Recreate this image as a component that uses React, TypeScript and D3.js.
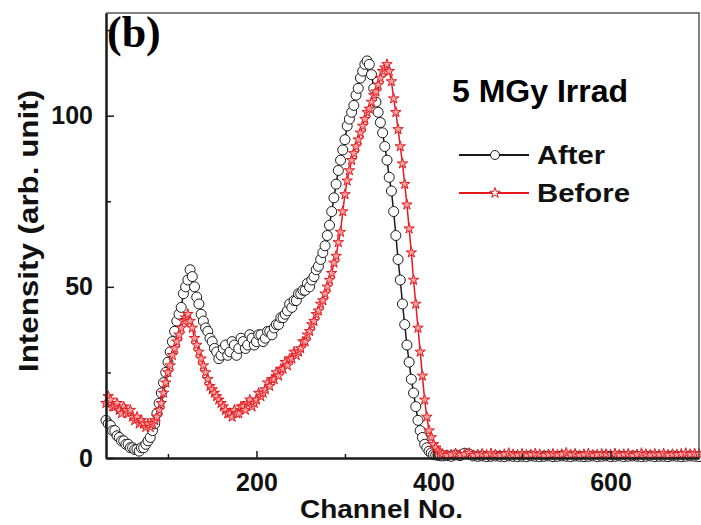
import React, { useRef, useEffect } from 'react';
import * as d3 from 'd3';

// sampling grid: every 2.5 channels through the peaks, every 5 channels on the flat tail
const channels = d3.range(30, 410.1, 2.5).concat(d3.range(415, 701, 5));

const afterValues = [
  11, 10, 9.5, 8, 8, 6.5, 6, 5,
  5, 4, 4, 3, 3, 2.5, 2.5, 2, 3, 3, 4, 5, 6, 8, 10, 13, 16, 19, 22, 25,
  28, 31, 34, 37, 40, 42, 44, 48, 50, 52, 55, 53, 50, 47, 45, 42, 40, 38, 37, 35,
  34, 32, 31, 29, 30, 32, 33, 30, 31, 34, 33, 30, 32, 35, 34, 32, 33, 36, 35, 33,
  34, 36, 36, 34, 35, 37, 37, 36, 38, 39, 39, 41, 41, 42, 43, 45, 44, 46, 46, 48,
  48, 49, 49, 51, 50, 52, 53, 55, 56, 58, 60, 62, 65, 68, 72, 76, 80, 84, 87, 90,
  93, 97, 99, 101, 103, 106, 108, 111, 113, 115, 116, 115, 112, 108, 104, 101, 98, 95, 91, 87,
  82, 78, 72, 65, 58, 52, 45, 39, 33, 28, 23, 19, 15, 11, 8, 6, 4, 3, 2, 1.5,
  1, 0.9, 0.8, 0.7, 0.6,
  0.7, 0.5, 0.9, 0.7, 1.4, 1.2, 0.6, 0.5, 0.6, 0.4,
  0.5, 0.6, 0.5, 0.4, 0.6, 0.5, 0.4, 0.5, 0.4, 0.6,
  0.5, 0.4, 0.5, 0.6, 0.4, 0.5, 0.6, 0.5, 0.4, 0.6,
  0.5, 0.4, 0.5, 0.6, 0.4, 0.5, 0.6, 0.4, 0.5, 0.6,
  0.4, 0.5, 0.6, 0.5, 0.4, 0.5, 0.6, 0.4, 0.5, 0.5,
  0.4, 0.6, 0.5, 0.4, 0.5, 0.6, 0.5, 0.4
];

const beforeValues = [
  16, 18, 17, 15, 15, 16, 14, 13,
  15, 14, 13, 14, 12, 11, 12, 10, 11, 10, 9, 10, 9, 10, 11, 12, 14, 16, 19, 22,
  25, 27, 30, 32, 34, 36, 38, 40, 41, 42, 40, 38, 35, 33, 31, 29, 27, 25, 23, 21,
  20, 19, 18, 17, 16, 15, 14, 13, 13, 12, 14, 13, 13, 15, 15, 14, 16, 17, 15, 16,
  17, 19, 18, 19, 20, 22, 21, 23, 23, 25, 24, 26, 26, 28, 27, 29, 29, 31, 30, 31,
  32, 34, 34, 36, 37, 39, 40, 42, 43, 45, 46, 48, 50, 52, 54, 57, 59, 63, 66, 72,
  77, 81, 84, 87, 89, 91, 93, 95, 97, 99, 101, 102, 104, 106, 107, 109, 111, 113, 114, 115,
  113, 110, 105, 101, 96, 91, 86, 80, 74, 67, 60, 52, 45, 38, 31, 24, 17, 12, 8, 6,
  4, 3, 2, 1.5, 1.2,
  0.8, 1.0, 1.3, 0.9, 1.1, 1.4, 0.8, 1.0, 1.2, 0.9,
  1.3, 1.0, 0.8, 1.1, 1.4, 1.0, 0.9, 1.2, 0.9, 1.0,
  1.3, 1.1, 0.8, 1.0, 1.2, 0.9, 1.1, 1.5, 1.0, 1.2,
  0.8, 1.1, 1.3, 0.9, 1.0, 1.2, 1.1, 1.0, 1.3, 0.9,
  1.1, 1.2, 0.8, 1.0, 1.4, 1.1, 0.9, 1.2, 1.0, 1.3,
  0.9, 1.1, 1.0, 1.2, 1.4, 1.1, 1.3, 1.2
];

const xMajorTicks = [200, 400, 600];
const xMinorTicks = [100, 300, 500];
const yMajorTicks = [0, 50, 100];
const yMinorTicks = [25, 75, 125];

const legendItems = ['After', 'Before'];

const RED = '#e5191e';
const BLACK = '#1a1a1a';
const SANS = '"Liberation Sans", Arial, sans-serif';

const SpectrumChart = () => {
  const chartRef = useRef<SVGSVGElement>(null);

  useEffect(() => {
    const width = 701;
    const height = 525;
    const left = 106;
    const right = 699;
    const top = 13;
    const bottom = 458;

    const svg = d3.select(chartRef.current)
      .attr('width', width)
      .attr('height', height)
      .attr('viewBox', [0, 0, width, height] as any);
    svg.selectAll('*').remove();

    svg.append('rect').attr('width', width).attr('height', height).attr('fill', '#fff');

    const x = d3.scaleLinear().domain([30, 700]).range([left, right]);
    const y = d3.scaleLinear().domain([0, 130]).range([bottom, top]);

    const after = channels.map((c, i) => ({ c, v: afterValues[i] }));
    const before = channels.map((c, i) => ({ c, v: beforeValues[i] }));

    const line = d3.line<{ c: number; v: number }>()
      .x(d => x(d.c))
      .y(d => y(d.v));

    const plot = svg.append('g');

    // After: black line with open circles
    plot.append('path')
      .datum(after)
      .attr('fill', 'none')
      .attr('stroke', BLACK)
      .attr('stroke-width', 1.5)
      .attr('d', line);

    plot.append('g')
      .selectAll('circle')
      .data(after)
      .join('circle')
      .attr('cx', d => x(d.c))
      .attr('cy', d => y(d.v))
      .attr('r', 5)
      .attr('fill', '#fff')
      .attr('stroke', BLACK)
      .attr('stroke-width', 1);

    // Before: red line with stars
    plot.append('path')
      .datum(before)
      .attr('fill', 'none')
      .attr('stroke', RED)
      .attr('stroke-width', 1.5)
      .attr('d', line);

    const star = d3.symbol().type(d3.symbolStar).size(34);

    plot.append('g')
      .selectAll('path')
      .data(before)
      .join('path')
      .attr('transform', d => `translate(${x(d.c)},${y(d.v)})`)
      .attr('d', star as any)
      .attr('fill', '#f7a0a0')
      .attr('stroke', RED)
      .attr('stroke-width', 1);

    // frame top / right
    svg.append('path')
      .attr('d', `M${left},${top}H${right}V${bottom}`)
      .attr('fill', 'none')
      .attr('stroke', '#555')
      .attr('stroke-width', 1.5);

    // axes
    const xAxis = svg.append('g')
      .attr('transform', `translate(0,${bottom})`)
      .call(d3.axisBottom(x).tickValues(xMajorTicks).tickSize(-7).tickSizeOuter(0).tickPadding(15).tickFormat(d3.format('d')));
    svg.append('g')
      .attr('transform', `translate(0,${bottom})`)
      .call(d3.axisBottom(x).tickValues(xMinorTicks).tickSize(-4).tickSizeOuter(0).tickFormat(() => ''));

    const yAxis = svg.append('g')
      .attr('transform', `translate(${left},0)`)
      .call(d3.axisLeft(y).tickValues(yMajorTicks).tickSize(-8).tickSizeOuter(0).tickPadding(13).tickFormat(d3.format('d')));
    svg.append('g')
      .attr('transform', `translate(${left},0)`)
      .call(d3.axisLeft(y).tickValues(yMinorTicks).tickSize(-5).tickSizeOuter(0).tickFormat(() => ''));

    svg.selectAll('.domain').attr('stroke', BLACK).attr('stroke-width', 2);
    svg.selectAll('.tick line').attr('stroke', BLACK).attr('stroke-width', 1.5);
    [xAxis, yAxis].forEach(a => a.selectAll('text')
      .attr('fill', '#111')
      .style('font-family', SANS)
      .style('font-weight', 'bold')
      .style('font-size', '25px'));

    // axis titles
    svg.append('text')
      .attr('x', 300)
      .attr('y', 518)
      .attr('textLength', 163)
      .attr('lengthAdjust', 'spacingAndGlyphs')
      .attr('fill', '#111')
      .style('font-family', SANS)
      .style('font-weight', 'bold')
      .style('font-size', '26px')
      .text('Channel No.');

    svg.append('text')
      .attr('transform', 'translate(38,372) rotate(-90)')
      .attr('textLength', 282)
      .attr('lengthAdjust', 'spacingAndGlyphs')
      .attr('fill', '#111')
      .style('font-family', SANS)
      .style('font-weight', 'bold')
      .style('font-size', '28px')
      .text('Intensity (arb. unit)');

    // panel label
    svg.append('text')
      .attr('x', 107)
      .attr('y', 47)
      .attr('fill', '#000')
      .style('font-family', '"Liberation Serif", "Times New Roman", serif')
      .style('font-weight', 'bold')
      .style('font-size', '44px')
      .text('(b)');

    svg.append('text')
      .attr('x', 452)
      .attr('y', 102)
      .attr('textLength', 176)
      .attr('lengthAdjust', 'spacingAndGlyphs')
      .attr('fill', '#000')
      .style('font-family', SANS)
      .style('font-weight', 'bold')
      .style('font-size', '31px')
      .text('5 MGy Irrad');

    // legend
    const legend = svg.append('g');
    const legendY = [155, 193];
    const legendWidths = [68, 93];
    legendItems.forEach((name, i) => {
      const color = i === 0 ? BLACK : RED;
      legend.append('line')
        .attr('x1', 459).attr('x2', 529)
        .attr('y1', legendY[i]).attr('y2', legendY[i])
        .attr('stroke', color)
        .attr('stroke-width', 2);
      if (i === 0) {
        legend.append('circle')
          .attr('cx', 495).attr('cy', legendY[i]).attr('r', 4.5)
          .attr('fill', '#fff').attr('stroke', BLACK).attr('stroke-width', 1);
      } else {
        legend.append('path')
          .attr('transform', `translate(495,${legendY[i]})`)
          .attr('d', star as any)
          .attr('fill', '#fff').attr('stroke', RED).attr('stroke-width', 1);
      }
      legend.append('text')
        .attr('x', 537)
        .attr('y', legendY[i] + 9)
        .attr('textLength', legendWidths[i])
        .attr('lengthAdjust', 'spacingAndGlyphs')
        .attr('fill', '#111')
        .style('font-family', SANS)
        .style('font-weight', 'bold')
        .style('font-size', '25px')
        .text(name);
    });
  }, []);

  return <svg ref={chartRef} style={{ position: 'absolute', left: 0, top: 0, display: 'block' }}></svg>;
};

export default function App() {
  return <SpectrumChart />;
}
